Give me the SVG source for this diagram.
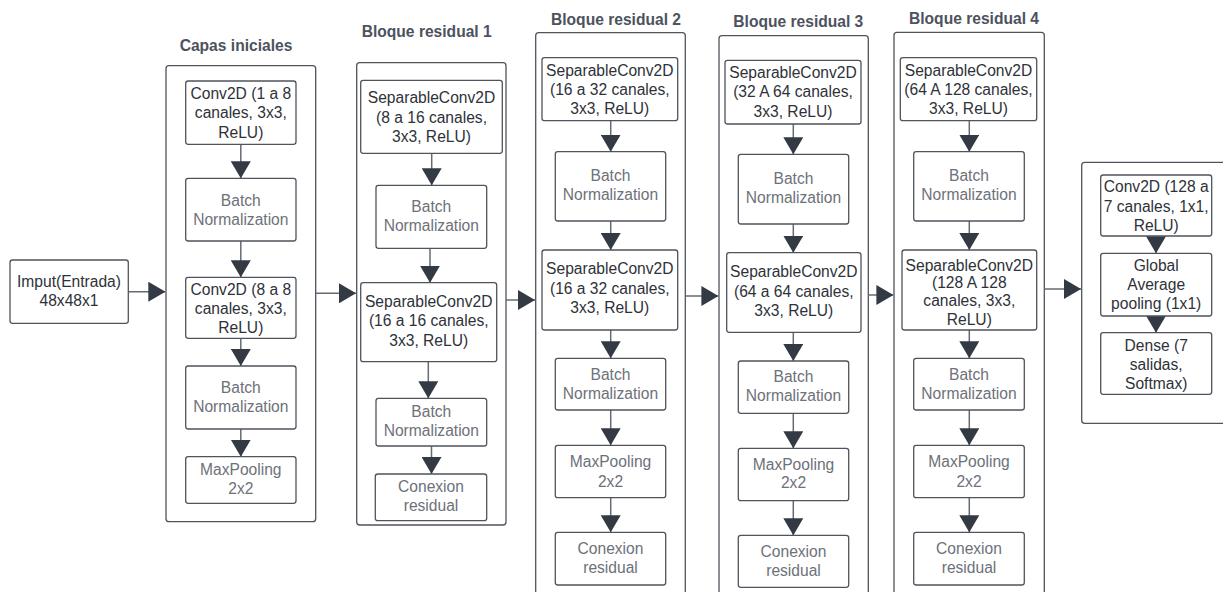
<svg xmlns="http://www.w3.org/2000/svg" width="1223" height="592" viewBox="0 0 1223 592">
<style>
.bg{fill:#ffffff}
.box{fill:#ffffff;stroke:#4f545c;stroke-width:1.3}
.cont{fill:#ffffff;stroke:#4f545c;stroke-width:1.3}
text{font-family:"Liberation Sans",Arial,sans-serif;font-size:15.6px;text-anchor:middle}
.d{fill:#2e3238}
.g{fill:#6d7179}
.title{font-weight:bold;fill:#4d535e}
.ln{stroke:#666b73;stroke-width:1.5;fill:none}
</style>
<defs>
<marker id="ah" markerUnits="userSpaceOnUse" viewBox="0 0 17 20" markerWidth="17" markerHeight="20" refX="17" refY="10" orient="auto">
<path d="M0,0 L17,10 L0,20 Z" fill="#343a43"/>
</marker>
</defs>
<rect class="bg" x="0" y="0" width="1223" height="592"/>

<!-- containers and titles -->
<g id="capas_iniciales">
<text class="title" x="236" y="51">Capas iniciales</text>
<rect class="cont" x="166" y="65.7" width="149.7" height="456" rx="3"/>
</g>
<g id="bloque1">
<text class="title" x="426.7" y="37.3">Bloque residual 1</text>
<rect class="cont" x="356.7" y="62.7" width="149.3" height="462.3" rx="3"/>
</g>
<g id="bloque2">
<text class="title" x="616" y="25">Bloque residual 2</text>
<rect class="cont" x="535.7" y="32.7" width="149.6" height="600" rx="3"/>
</g>
<g id="bloque3">
<text class="title" x="798.3" y="27.3">Bloque residual 3</text>
<rect class="cont" x="719" y="35.7" width="149.3" height="600" rx="3"/>
</g>
<g id="bloque4">
<text class="title" x="974" y="24">Bloque residual 4</text>
<rect class="cont" x="894" y="32.3" width="150.3" height="600" rx="3"/>
</g>
<g id="salida">
<rect class="cont" x="1081.7" y="162.3" width="170" height="261" rx="3"/>
</g>

<!-- connectors -->
<g id="connectors">
<line class="ln" x1="128.3" y1="291.7" x2="165.3" y2="291.7" marker-end="url(#ah)"/>
<line class="ln" x1="316" y1="293.3" x2="356" y2="293.3" marker-end="url(#ah)"/>
<line class="ln" x1="506" y1="300" x2="535" y2="300" marker-end="url(#ah)"/>
<line class="ln" x1="685.3" y1="296" x2="718.4" y2="296" marker-end="url(#ah)"/>
<line class="ln" x1="868.3" y1="295" x2="893.4" y2="295" marker-end="url(#ah)"/>
<line class="ln" x1="1044.3" y1="289" x2="1081" y2="289" marker-end="url(#ah)"/>

<line class="ln" x1="240.8" y1="144.3" x2="240.8" y2="178.3" marker-end="url(#ah)"/>
<line class="ln" x1="240.8" y1="241" x2="240.8" y2="277.3" marker-end="url(#ah)"/>
<line class="ln" x1="240.8" y1="338.3" x2="240.8" y2="366" marker-end="url(#ah)"/>
<line class="ln" x1="240.8" y1="429" x2="240.8" y2="456.7" marker-end="url(#ah)"/>

<line class="ln" x1="431.7" y1="153.3" x2="431.7" y2="185.3" marker-end="url(#ah)"/>
<line class="ln" x1="430" y1="248.3" x2="430" y2="282.7" marker-end="url(#ah)"/>
<line class="ln" x1="428.3" y1="361.7" x2="428.3" y2="398.3" marker-end="url(#ah)"/>
<line class="ln" x1="431.5" y1="446" x2="431.5" y2="474" marker-end="url(#ah)"/>

<line class="ln" x1="610.7" y1="120.7" x2="610.7" y2="151.7" marker-end="url(#ah)"/>
<line class="ln" x1="610.7" y1="221" x2="610.7" y2="250" marker-end="url(#ah)"/>
<line class="ln" x1="610.7" y1="330" x2="610.7" y2="358.3" marker-end="url(#ah)"/>
<line class="ln" x1="610.7" y1="410" x2="610.7" y2="445.3" marker-end="url(#ah)"/>
<line class="ln" x1="610.7" y1="497.7" x2="610.7" y2="532.3" marker-end="url(#ah)"/>

<line class="ln" x1="793.3" y1="124" x2="793.3" y2="154.3" marker-end="url(#ah)"/>
<line class="ln" x1="793.3" y1="224" x2="793.3" y2="252.7" marker-end="url(#ah)"/>
<line class="ln" x1="793.3" y1="332.3" x2="793.3" y2="361" marker-end="url(#ah)"/>
<line class="ln" x1="793.3" y1="413.3" x2="793.3" y2="448.3" marker-end="url(#ah)"/>
<line class="ln" x1="793.3" y1="500.7" x2="793.3" y2="535.3" marker-end="url(#ah)"/>

<line class="ln" x1="969.3" y1="120.7" x2="969.3" y2="151.7" marker-end="url(#ah)"/>
<line class="ln" x1="969.3" y1="221" x2="969.3" y2="250" marker-end="url(#ah)"/>
<line class="ln" x1="969.3" y1="330" x2="969.3" y2="358.3" marker-end="url(#ah)"/>
<line class="ln" x1="969.3" y1="410" x2="969.3" y2="445.3" marker-end="url(#ah)"/>
<line class="ln" x1="969.3" y1="497.7" x2="969.3" y2="532.3" marker-end="url(#ah)"/>

<line class="ln" x1="1156" y1="236" x2="1156" y2="253.3" marker-end="url(#ah)"/>
<line class="ln" x1="1156" y1="316" x2="1156" y2="332.7" marker-end="url(#ah)"/>
</g>

<!-- input -->
<g id="input">
<rect class="box" x="10" y="260" width="118.3" height="63.3" rx="2.5"/>
<text class="d" x="69" y="287.3">Imput(Entrada)</text>
<text class="d" x="69" y="306.3">48x48x1</text>
</g>

<!-- capas iniciales nodes -->
<g id="ci_conv1">
<rect class="box" x="185.7" y="81" width="110.3" height="63.3" rx="2.5"/>
<text class="d" x="240.8" y="98.9">Conv2D (1 a 8</text>
<text class="d" x="240.8" y="118.3">canales, 3x3,</text>
<text class="d" x="240.8" y="137.9">ReLU)</text>
</g>
<g id="ci_bn1">
<rect class="box" x="185.7" y="178.3" width="110.3" height="62.7" rx="2.5"/>
<text class="g" x="240.8" y="205.6">Batch</text>
<text class="g" x="240.8" y="225">Normalization</text>
</g>
<g id="ci_conv2">
<rect class="box" x="185.7" y="277.3" width="110.3" height="61" rx="2.5"/>
<text class="d" x="240.8" y="294.6">Conv2D (8 a 8</text>
<text class="d" x="240.8" y="313.6">canales, 3x3,</text>
<text class="d" x="240.8" y="333">ReLU)</text>
</g>
<g id="ci_bn2">
<rect class="box" x="185.7" y="366" width="110.3" height="63" rx="2.5"/>
<text class="g" x="240.8" y="392.6">Batch</text>
<text class="g" x="240.8" y="411.6">Normalization</text>
</g>
<g id="ci_mp">
<rect class="box" x="185.7" y="456.7" width="110.3" height="46.6" rx="2.5"/>
<text class="g" x="240.8" y="475.4">MaxPooling</text>
<text class="g" x="240.8" y="494.4">2x2</text>
</g>

<!-- bloque 1 nodes -->
<g id="b1_sep1">
<rect class="box" x="360.7" y="80.3" width="141.6" height="73" rx="2.5"/>
<text class="d" x="431.5" y="103.3">SeparableConv2D</text>
<text class="d" x="431.5" y="122.9">(8 a 16 canales,</text>
<text class="d" x="431.5" y="142.3">3x3, ReLU)</text>
</g>
<g id="b1_bn1">
<rect class="box" x="376" y="185.3" width="110.7" height="63" rx="2.5"/>
<text class="g" x="431.3" y="211.6">Batch</text>
<text class="g" x="431.3" y="230.6">Normalization</text>
</g>
<g id="b1_sep2">
<rect class="box" x="360.7" y="282.7" width="136" height="79" rx="2.5"/>
<text class="d" x="428.7" y="307.3">SeparableConv2D</text>
<text class="d" x="428.7" y="326.3">(16 a 16 canales,</text>
<text class="d" x="428.7" y="345.6">3x3, ReLU)</text>
</g>
<g id="b1_bn2">
<rect class="box" x="376" y="398.3" width="110.7" height="47.7" rx="2.5"/>
<text class="g" x="431.3" y="416.6">Batch</text>
<text class="g" x="431.3" y="435.6">Normalization</text>
</g>
<g id="b1_res">
<rect class="box" x="375.3" y="474" width="111.4" height="46.7" rx="2.5"/>
<text class="g" x="431" y="492.3">Conexion</text>
<text class="g" x="431" y="510.6">residual</text>
</g>

<!-- bloque 2 nodes -->
<g id="b2_sep1">
<rect class="box" x="542" y="57.7" width="135.7" height="63" rx="2.5"/>
<text class="d" x="609.8" y="75.6">SeparableConv2D</text>
<text class="d" x="609.8" y="94.9">(16 a 32 canales,</text>
<text class="d" x="609.8" y="113.9">3x3, ReLU)</text>
</g>
<g id="b2_bn1">
<rect class="box" x="555.3" y="151.7" width="110.4" height="69.3" rx="2.5"/>
<text class="g" x="610.5" y="181.3">Batch</text>
<text class="g" x="610.5" y="199.9">Normalization</text>
</g>
<g id="b2_sep2">
<rect class="box" x="542" y="250" width="135.7" height="80" rx="2.5"/>
<text class="d" x="609.8" y="274.3">SeparableConv2D</text>
<text class="d" x="609.8" y="293.5">(16 a 32 canales,</text>
<text class="d" x="609.8" y="312.9">3x3, ReLU)</text>
</g>
<g id="b2_bn2">
<rect class="box" x="555.3" y="358.3" width="110.4" height="51.7" rx="2.5"/>
<text class="g" x="610.5" y="379.6">Batch</text>
<text class="g" x="610.5" y="398.9">Normalization</text>
</g>
<g id="b2_mp">
<rect class="box" x="555.3" y="445.3" width="110.4" height="52.4" rx="2.5"/>
<text class="g" x="610.5" y="467.3">MaxPooling</text>
<text class="g" x="610.5" y="486.6">2x2</text>
</g>
<g id="b2_res">
<rect class="box" x="555.3" y="532.3" width="110.4" height="52.7" rx="2.5"/>
<text class="g" x="610.5" y="553.9">Conexion</text>
<text class="g" x="610.5" y="572.9">residual</text>
</g>

<!-- bloque 3 nodes -->
<g id="b3_sep1">
<rect class="box" x="725" y="60.3" width="136" height="63.7" rx="2.5"/>
<text class="d" x="793" y="78.3">SeparableConv2D</text>
<text class="d" x="793" y="97.3">(32 A 64 canales,</text>
<text class="d" x="793" y="116.6">3x3, ReLU)</text>
</g>
<g id="b3_bn1">
<rect class="box" x="738.3" y="154.3" width="110.4" height="69.7" rx="2.5"/>
<text class="g" x="793.5" y="183.9">Batch</text>
<text class="g" x="793.5" y="202.9">Normalization</text>
</g>
<g id="b3_sep2">
<rect class="box" x="726.7" y="252.7" width="134.3" height="79.6" rx="2.5"/>
<text class="d" x="793.8" y="277.3">SeparableConv2D</text>
<text class="d" x="793.8" y="296.5">(64 a 64 canales,</text>
<text class="d" x="793.8" y="316.3">3x3, ReLU)</text>
</g>
<g id="b3_bn2">
<rect class="box" x="738.3" y="361" width="110.4" height="52.3" rx="2.5"/>
<text class="g" x="793.5" y="382.3">Batch</text>
<text class="g" x="793.5" y="401.3">Normalization</text>
</g>
<g id="b3_mp">
<rect class="box" x="738.3" y="448.3" width="110.4" height="52.4" rx="2.5"/>
<text class="g" x="793.5" y="469.6">MaxPooling</text>
<text class="g" x="793.5" y="487.9">2x2</text>
</g>
<g id="b3_res">
<rect class="box" x="738.3" y="535.3" width="110.4" height="52" rx="2.5"/>
<text class="g" x="793.5" y="556.6">Conexion</text>
<text class="g" x="793.5" y="575.6">residual</text>
</g>

<!-- bloque 4 nodes -->
<g id="b4_sep1">
<rect class="box" x="900.3" y="57.7" width="136.4" height="63" rx="2.5"/>
<text class="d" x="968.5" y="75.6">SeparableConv2D</text>
<text class="d" x="968.5" y="94.9">(64 A 128 canales,</text>
<text class="d" x="968.5" y="113.9">3x3, ReLU)</text>
</g>
<g id="b4_bn1">
<rect class="box" x="913.7" y="151.7" width="110.6" height="69.3" rx="2.5"/>
<text class="g" x="969" y="181.3">Batch</text>
<text class="g" x="969" y="199.9">Normalization</text>
</g>
<g id="b4_sep2">
<rect class="box" x="902" y="250" width="134.7" height="80" rx="2.5"/>
<text class="d" x="969.3" y="270.6">SeparableConv2D</text>
<text class="d" x="969.3" y="288.3">(128 A 128</text>
<text class="d" x="969.3" y="306.3">canales, 3x3,</text>
<text class="d" x="969.3" y="324.9">ReLU)</text>
</g>
<g id="b4_bn2">
<rect class="box" x="913.7" y="358.3" width="110.6" height="51.7" rx="2.5"/>
<text class="g" x="969" y="379.6">Batch</text>
<text class="g" x="969" y="398.9">Normalization</text>
</g>
<g id="b4_mp">
<rect class="box" x="913.7" y="445.3" width="110.6" height="52.4" rx="2.5"/>
<text class="g" x="969" y="467.3">MaxPooling</text>
<text class="g" x="969" y="486.6">2x2</text>
</g>
<g id="b4_res">
<rect class="box" x="913.7" y="532.3" width="110.6" height="52.7" rx="2.5"/>
<text class="g" x="969" y="553.9">Conexion</text>
<text class="g" x="969" y="572.9">residual</text>
</g>

<!-- salida nodes -->
<g id="out_conv">
<rect class="box" x="1100.7" y="175" width="111" height="61" rx="2.5"/>
<text class="d" x="1156.2" y="192.3">Conv2D (128 a</text>
<text class="d" x="1156.2" y="211.6">7 canales, 1x1,</text>
<text class="d" x="1156.2" y="230.6">ReLU)</text>
</g>
<g id="out_gap">
<rect class="box" x="1100.7" y="253.3" width="111" height="62.7" rx="2.5"/>
<text class="d" x="1156.2" y="270.6">Global</text>
<text class="d" x="1156.2" y="289.6">Average</text>
<text class="d" x="1156.2" y="308.9">pooling (1x1)</text>
</g>
<g id="out_dense">
<rect class="box" x="1100.7" y="332.7" width="111" height="61.6" rx="2.5"/>
<text class="d" x="1156.2" y="350.6">Dense (7</text>
<text class="d" x="1156.2" y="369.6">salidas,</text>
<text class="d" x="1156.2" y="388.9">Softmax)</text>
</g>
</svg>
